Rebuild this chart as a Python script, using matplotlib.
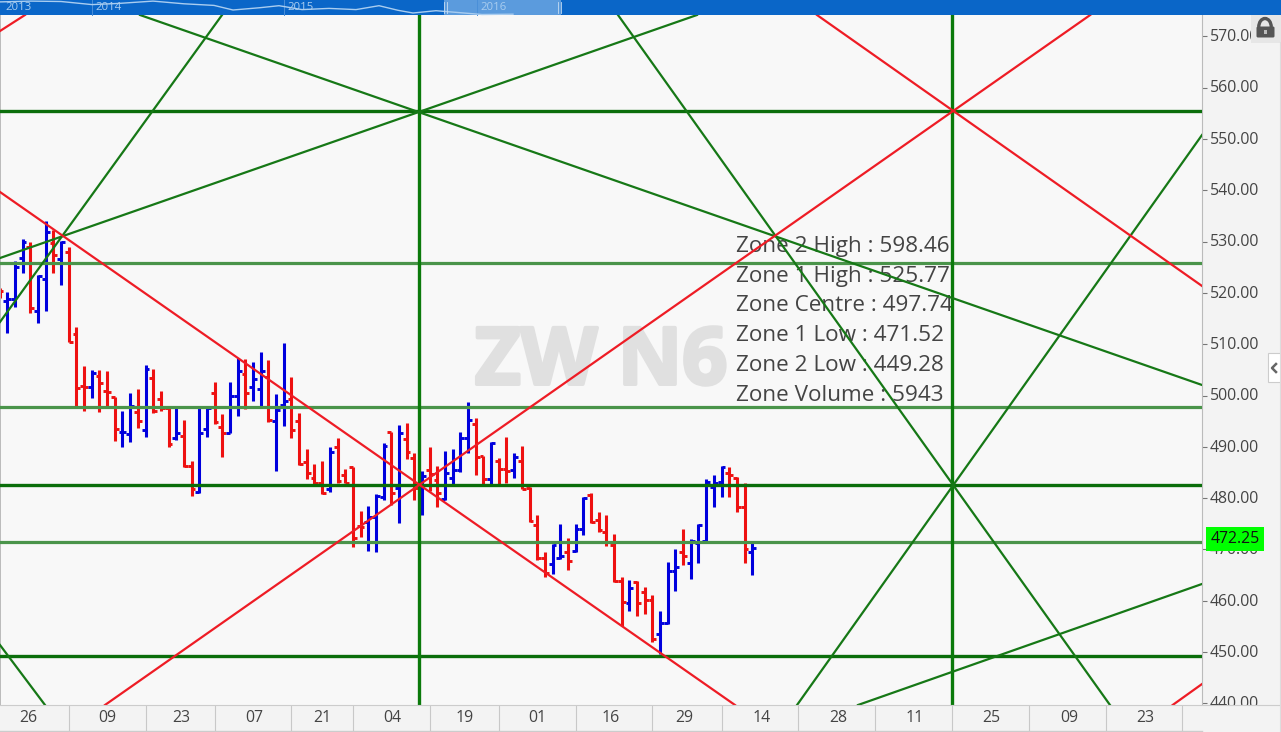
import matplotlib
matplotlib.use("Agg")
import matplotlib.pyplot as plt
import matplotlib.patheffects as pe
from matplotlib.patches import Rectangle, FancyBboxPatch, Arc
from matplotlib.transforms import ScaledTranslation

plt.rcParams['font.family'] = ['Open Sans', 'DejaVu Sans']

# bar -1 is the partial bar cut by the left edge
highs = [521.0,520.1,526.3,530.6,530.0,523.5,534.1,532.3,530.2,528.9,513.4,505.7,505.0,505.0,504.8,499.8,497.0,500.4,501.2,505.9,505.1,
         500.9,497.6,497.6,495.2,487.2,497.6,497.6,502.6,496.4,502.6,507.4,507.2,506.5,508.4,506.9,500.2,510.2,503.7,496.6,489.5,
         486.6,487.3,490.0,491.7,485.6,486.1,477.5,478.5,480.8,490.8,492.9,494.2,494.6,488.7,485.3,489.9,486.3,489.2,489.5,492.8,
         498.8,495.7,488.3,491.0,487.9,491.9,488.7,490.2,482.2,476.8,469.4,471.1,474.9,472.2,474.9,480.3,480.9,477.3,476.7,473.1,
         464.7,464.0,463.9,462.6,461.2,458.0,467.5,470.1,473.9,472.0,474.9,483.7,484.5,486.3,486.0,484.2,482.9,471.2]
lows  = [519.0,512.2,517.3,523.9,516.0,514.1,516.5,523.9,521.5,510.5,498.0,497.0,499.6,496.8,497.6,491.2,490.0,490.9,493.6,492.0,496.5,
         497.0,489.9,491.3,486.1,480.5,480.9,492.0,494.4,488.1,492.6,496.1,497.3,498.9,497.7,494.8,485.3,494.1,491.7,486.4,483.7,
         482.7,480.8,481.1,483.0,482.9,470.5,472.4,469.7,469.4,479.6,478.7,475.1,487.6,479.6,476.7,481.4,478.2,479.6,482.6,485.1,
         488.7,484.5,482.6,482.6,482.6,483.0,484.0,481.7,475.3,467.9,464.7,465.2,468.1,466.0,469.4,472.9,475.1,473.3,470.7,463.6,
         455.1,458.0,457.1,457.4,452.0,449.6,455.5,461.9,466.9,464.2,467.3,471.4,478.3,480.3,480.3,477.3,467.3,465.0]
opens = [520.5,518.4,518.8,526.9,529.0,516.5,522.8,529.8,526.7,528.0,511.9,501.9,501.6,503.8,500.8,499.8,492.8,492.4,496.7,493.3,503.4,
         499.3,497.5,491.8,492.2,486.3,481.1,493.5,500.4,493.9,492.7,499.9,504.1,501.7,501.2,503.7,495.1,498.1,499.4,495.1,487.0,
         483.9,482.9,481.7,489.9,484.5,486.1,474.6,475.4,476.4,480.3,492.9,481.9,491.5,487.9,482.2,485.5,483.5,479.8,484.0,485.5,
         491.7,494.4,488.3,483.7,487.2,485.7,485.5,487.3,482.0,474.7,468.4,467.1,468.4,469.5,469.7,473.9,480.7,475.7,473.4,470.9,
         463.9,459.6,463.7,461.6,460.1,453.6,455.6,465.7,469.4,467.4,471.2,471.6,482.1,483.1,484.8,483.9,478.3,469.5]
closes = [520.4,518.8,525.1,529.9,517.0,523.3,531.8,527.3,529.9,510.5,501.4,501.7,504.3,502.4,500.7,493.4,492.8,498.0,495.0,505.1,497.0,
          497.5,490.5,492.6,486.3,481.7,492.6,497.5,494.9,492.6,499.9,504.8,500.4,503.3,504.8,495.2,497.2,499.0,493.3,486.6,484.8,
          482.9,480.9,489.0,483.4,483.0,472.2,474.4,476.4,480.5,490.1,480.9,492.6,489.0,482.0,484.3,484.7,480.9,484.8,485.5,491.8,
          495.2,488.1,483.7,490.7,485.7,485.3,488.1,481.7,475.5,468.4,465.4,470.9,468.8,467.7,474.0,480.1,475.4,473.8,471.5,463.8,
          459.7,462.4,459.5,460.1,452.5,455.7,465.7,466.6,468.7,471.7,474.8,483.1,482.9,486.0,484.5,478.3,470.0,470.2]
bar_index = list(range(-1, 98))

zone_light = [525.77, 497.74, 471.52]
zone_dark = [555.46, 482.50, 449.28]
zone_vertical = [53.61, 123.01]

# diagonals: (bar, price) end pairs
red_lines = [((-0.95, 539.67), (94.75, 439.67)),
             ((12.72, 439.67), (141.0, 574.17)),
             ((-0.95, 571.05), (2.30, 574.17)),
             ((105.43, 574.17), (155.56, 521.35)),
             ((151.74, 439.67), (155.56, 443.76))]
green_lines = [((-0.95, 526.80), (89.8, 574.17)),
               ((-0.95, 514.33), (27.96, 574.17)),
               ((17.28, 574.17), (155.56, 502.05)),
               ((79.52, 574.17), (143.58, 439.67)),
               ((102.83, 439.67), (155.56, 550.78)),
               ((110.77, 439.67), (155.56, 463.26)),
               ((-0.95, 451.36), (4.91, 439.67))]

price_ticks = [440, 450, 460, 470, 480, 490, 500, 510, 520, 530, 540, 550, 560, 570]
date_seps = [8, 18, 27, 37, 45, 55, 64, 74, 84, 93, 103, 113, 123, 133, 143, 153]
date_labels = ['26', '09', '23', '07', '21', '04', '19', '01', '16', '29', '14', '28', '11', '25', '09', '23']
date_centres = [2.8, 12.97, 22.6, 32.1, 41.0, 50.1, 59.6, 69.0, 78.6, 88.1, 98.2, 108.2, 118.2, 128.1, 138.3, 148.2]
zone_texts = ['Zone 2 High : 598.46', 'Zone 1 High : 525.77', 'Zone Centre : 497.74',
              'Zone 1 Low : 471.52', 'Zone 2 Low : 449.28', 'Zone Volume : 5943']
last_price = 472.25
overview_x = [0, 31, 61, 92, 119, 153, 184, 214, 233, 260, 279, 302, 329, 356, 379, 398, 413, 436, 459, 482, 513]
overview_y = [1.9, 1.1, 1.5, 4.6, 3.4, 1.1, 3.8, 5.4, 10, 7.7, 5.7, 9.6, 8.4, 9.6, 5.7, 10.3, 13, 10.7, 12.6, 14.5, 14.2]
years = [('2013', 5), ('2014', 95), ('2015', 287), ('2016', 480)]

W, H = 1281, 732
PANEL = '#f3f3f3'
TXT = '#444444'
fig = plt.figure(figsize=(W / 100, H / 100), dpi=100, facecolor=PANEL)

def rect(x0, y0, x1, y1):
    return [x0 / W, 1 - y1 / H, (x1 - x0) / W, (y1 - y0) / H]

ax = fig.add_axes(rect(0, 15, 1202, 705), facecolor='#f8f8f8', zorder=1)
ax.set_xlim(-0.95, 155.56)
ax.set_ylim(439.67, 574.17)
for s in ('top', 'bottom'):
    ax.spines[s].set_visible(False)
ax.spines['left'].set_color('#bbbbbb')
ax.spines['left'].set_linewidth(1.4)
ax.spines['right'].set_color('#bbbbbb')
ax.set_xticks([])
ax.yaxis.tick_right()
ax.set_yticks(price_ticks)
ax.set_yticklabels([f'{p:.2f}' for p in price_ticks], fontsize=11.4, color=TXT)
ax.tick_params(axis='y', length=3.6, width=0.8, color='#777777', pad=2.2)
up_one = ScaledTranslation(0, 1.2 / 100, fig.dpi_scale_trans)
for lab in ax.get_yticklabels():
    lab.set_transform(lab.get_transform() + up_one)

wm = ax.text(77.3, 506.2, 'ZW N6', fontsize=57, fontweight='bold', color='#e0e0e0',
             ha='center', va='center', zorder=1)
wm.set_path_effects([pe.withStroke(linewidth=2.6, foreground='#e0e0e0')])

RED, BLUE = '#ee1111', '#0000dd'
for i, h, l, o, c in zip(bar_index, highs, lows, opens, closes):
    col = BLUE if c >= o else RED
    ax.vlines(i, l, h, color=col, lw=2.2, zorder=2)
    ax.hlines(o, i - 0.5, i, color=col, lw=2.1, zorder=2)
    ax.hlines(c, i, i + 0.5, color=col, lw=2.1, zorder=2)

for y, t in zip([246.5, 276.5, 305.5, 335.5, 365.5, 395.5], zone_texts):
    ax.text(736 / 1202, 1 - (y - 15) / 690, t, transform=ax.transAxes, fontsize=16.2,
            color=TXT, ha='left', va='center', zorder=3)

for p in zone_light:
    ax.axhline(p, color='#4a944a', lw=2.3, zorder=4)
for p in zone_dark:
    ax.axhline(p, color='#0b6e0b', lw=2.4, zorder=4)
for b in zone_vertical:
    ax.axvline(b, color='#0b7a0b', lw=2.4, zorder=4)
for (a, b) in green_lines:
    ax.plot([a[0], b[0]], [a[1], b[1]], color='#167816', lw=1.6, zorder=4)
for (a, b) in red_lines:
    ax.plot([a[0], b[0]], [a[1], b[1]], color='#ee1c25', lw=1.6, zorder=4)

ax.text(1.0 + 8.5 / 1202, last_price - 0.2, f'{last_price:.2f}', transform=ax.get_yaxis_transform(),
        fontsize=11.4, color='#111111', ha='left', va='center', clip_on=False, zorder=10,
        bbox=dict(boxstyle='square,pad=0.27', facecolor='#00ff00', edgecolor='none'))

# date band
band = fig.add_axes(rect(0, 705, 1281, 732), facecolor=PANEL, zorder=5)
band.set_xlim(-0.95, 165.84)
band.set_ylim(0, 1)
band.set_yticks([])
for s in ('left', 'right', 'bottom'):
    band.spines[s].set_visible(False)
band.spines['top'].set_color('#cccccc')
band.set_xticks(date_seps)
band.set_xticklabels([])
band.tick_params(axis='x', which='major', direction='in', bottom=True, length=19.4, width=0.8, color='#c8c8c8')
band.set_xticks(date_centres, minor=True)
band.set_xticklabels(date_labels, minor=True, fontsize=11.4, color=TXT)
band.tick_params(axis='x', which='minor', length=0, pad=-16)
band.plot([-0.95, 155.56], [0.03, 0.03], color='#cccccc', lw=1.0, clip_on=False)

# chrome overlay in pixel coordinates
ov = fig.add_axes([0, 0, 1, 1], zorder=8)
ov.set_xlim(0, W)
ov.set_ylim(H, 0)
ov.axis('off')
ov.patch.set_alpha(0)
ov.add_patch(Rectangle((0, 0), W, 14.5, facecolor='#0a66c8', edgecolor='none'))
ov.add_patch(Rectangle((444, 0), 117, 14.5, facecolor='#5b9bdd', edgecolor='none'))
for _, x in years[1:]:
    ov.plot([x - 3, x - 3], [0, 14.5], color='#4a8fd8', lw=0.7)
ov.plot(overview_x, overview_y, color='#a9cdf0', lw=1.0)
for label, x in years:
    ov.text(x, 8, label, fontsize=8.2, color='#a9cdf0', ha='left', va='center')
for x in (444, 447, 558, 561):
    ov.plot([x, x], [2, 13], color='#c5dcf3', lw=0.6)
ov.add_patch(Rectangle((1251, 15), 30, 27.5, facecolor='#e6e6e6', edgecolor='none'))
ov.add_patch(Arc((1265, 27), 12.5, 17, theta1=180, theta2=360, edgecolor='#555555', lw=2.4))
ov.add_patch(FancyBboxPatch((1257, 27), 17, 10, boxstyle='round,pad=0.5,rounding_size=1.5',
                            facecolor='#555555', edgecolor='none'))
ov.add_patch(Rectangle((1264, 30), 2.6, 4, facecolor='#bbbbbb', edgecolor='none'))
ov.add_patch(Rectangle((1267.5, 353), 14, 29, facecolor='white', edgecolor='#cccccc', lw=0.8))
ov.plot([1276, 1272, 1276], [364, 368, 372], color='#666666', lw=1.8)
ov.plot([1279.5, 1279.5], [42, 732], color='#dddddd', lw=0.8)

fig.savefig('out.png', dpi=100, facecolor=fig.get_facecolor())
